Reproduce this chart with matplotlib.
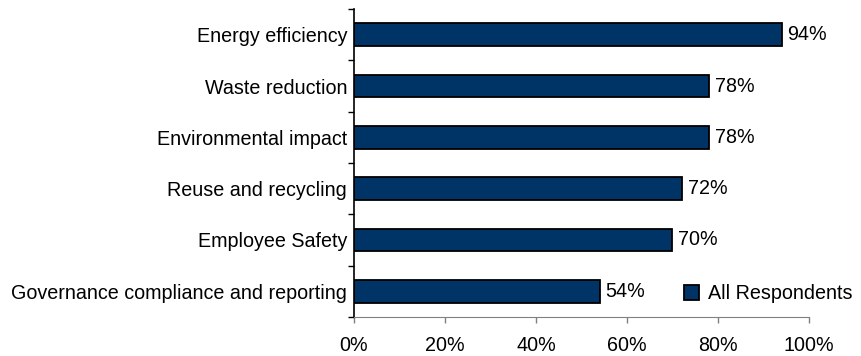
import matplotlib.pyplot as plt
import numpy as np

plt.rcParams['font.family'] = ['Liberation Sans', 'DejaVu Sans']

categories = ["Energy efficiency", "Waste reduction", "Environmental impact",
              "Reuse and recycling", "Employee Safety",
              "Governance compliance and reporting"]
values = [94, 78, 78, 72, 70, 54]
series_name = "All Respondents"

fs = 14.2

fig = plt.figure(figsize=(8.62, 3.56), dpi=100)
ax = fig.add_axes([0.4107, 0.1096, 0.5278, 0.8651])

y = np.arange(len(categories))
ax.barh(y, values, height=0.44, color='#003366', edgecolor='black',
        linewidth=1.3, label=series_name)

for yi, v in zip(y, values):
    ax.text(v + 1.3, yi, f"{v}%", va='center', ha='left', fontsize=fs)

ax.set_xlim(0, 100)
ax.set_ylim(len(categories) - 0.5, -0.5)
ax.set_xticks(np.arange(0, 101, 20))
ax.set_xticklabels([f"{t}%" for t in range(0, 101, 20)], fontsize=fs)
ax.set_yticks(y)
ax.set_yticklabels(categories, fontsize=fs)
ax.tick_params(axis='y', length=0, pad=5)
ax.set_yticks(np.arange(-0.5, len(categories), 1), minor=True)
ax.tick_params(axis='y', which='minor', length=4, width=1, direction='out')
ax.tick_params(axis='x', length=4, width=1, color='#808080', pad=10)

for s in ['top', 'right']:
    ax.spines[s].set_visible(False)
ax.spines['left'].set_linewidth(1.2)
ax.spines['bottom'].set_color('#808080')

ax.legend(loc='lower right', bbox_to_anchor=(1.127, 0.0), frameon=False,
          fontsize=fs, handlelength=0.75, handleheight=0.75, handletextpad=0.5,
          borderpad=0.2)

fig.savefig('out.png', dpi=100)
